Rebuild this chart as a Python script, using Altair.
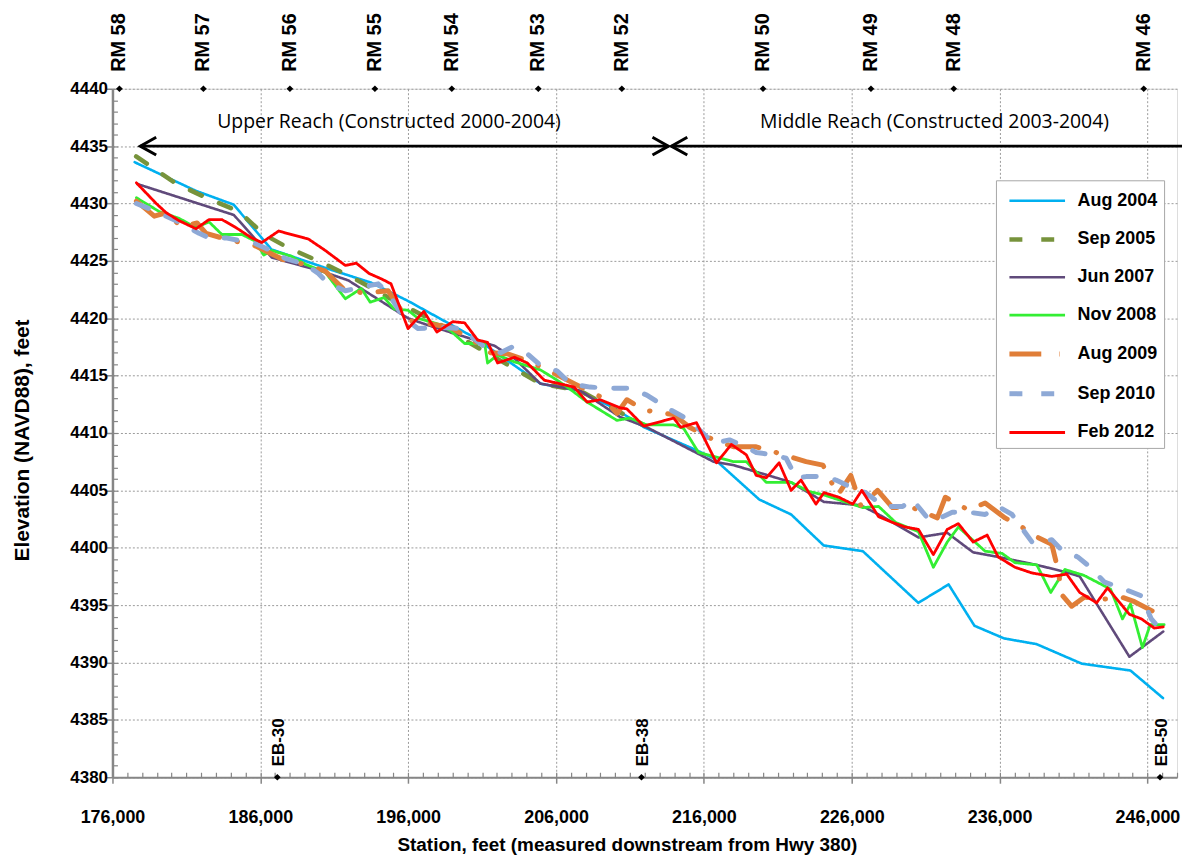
import altair as alt
import pandas as pd

# ---------------- data ----------------
series_names = ["Aug 2004", "Sep 2005", "Jun 2007", "Nov 2008", "Aug 2009", "Sep 2010", "Feb 2012"]
series_colors = ["#00B0F0", "#77933C", "#604A7B", "#33EE33", "#E07E38", "#8EA9D6", "#FF0000"]
series_dashes = [[1, 0], [13, 19], [1, 0], [1, 0], [32, 18, 0.5, 18], [13, 19], [1, 0]]
series_widths = [2.6, 4.5, 2.6, 2.8, 5, 5, 2.8]

aug2004_sta = [177500, 181650, 184200, 186750, 190600, 193500, 196000, 200500, 204950, 207450,
               209900, 211950, 215500, 216650, 219750, 221900, 224100, 226750, 230500, 232550,
               234300, 236300, 238500, 241550, 244850, 247050]
aug2004_elev = [4433.6, 4431.1, 4429.9, 4426.0, 4424.3, 4423.1, 4421.5, 4418.3, 4414.3, 4413.7,
                4412.2, 4410.5, 4408.5, 4407.8, 4404.2, 4402.9, 4400.2, 4399.7, 4395.2, 4396.8,
                4393.2, 4392.1, 4391.6, 4389.9, 4389.3, 4386.9]

sep2005_sta = [177600, 180350, 182350, 184550, 186250, 187800, 190250, 192300, 195100, 198000,
               199550, 204950, 207600, 211900]
sep2005_elev = [4434.1, 4431.7, 4430.5, 4429.3, 4427.3, 4426.2, 4424.8, 4423.5, 4421.5, 4419.6,
                4418.3, 4414.3, 4413.7, 4410.7]

jun2007_sta = [177680, 184210, 186770, 190130, 191950, 195990, 197330, 200030, 201840, 203190,
               204940, 207630, 210320, 212140, 216650, 218000, 220890, 221900, 224120, 226610,
               227820, 230510, 232460, 234210, 235900, 238520, 240410, 241420, 244780, 247070]
jun2007_elev = [4431.7, 4429.0, 4425.3, 4424.1, 4423.3, 4420.0, 4419.4, 4418.3, 4417.6, 4416.5,
                4414.3, 4413.7, 4411.4, 4410.5, 4407.5, 4407.2, 4406.1, 4405.7, 4404.0, 4403.7,
                4402.9, 4400.9, 4401.3, 4399.6, 4399.2, 4398.5, 4397.9, 4397.5, 4390.5, 4392.7]

nov2008_sta = [177620, 179160, 180510, 181650, 182530, 183400, 184750, 185690, 186230, 186770,
               188110, 189060, 190400, 191750, 192830, 193430, 194370, 195050, 195990, 196660,
               198010, 198880, 199820, 201170, 201370, 202050, 203190, 204940, 206080, 206760,
               208100, 210120, 211000, 212140, 213960, 214630, 215640, 216850, 218000, 218870,
               220220, 221900, 223110, 224120, 226740, 227820, 228970, 230510, 231520, 232460,
               233210, 235020, 236170, 237040, 238520, 239460, 240410, 241690, 243500, 244310,
               244850, 245660, 246190, 247130]
nov2008_elev = [4430.5, 4429.3, 4428.7, 4427.9, 4428.4, 4427.3, 4427.3, 4426.7, 4425.5, 4425.9,
                4425.4, 4424.7, 4424.0, 4421.7, 4422.6, 4421.4, 4421.8, 4420.8, 4420.7, 4420.0,
                4419.5, 4418.9, 4417.8, 4417.8, 4416.1, 4416.8, 4416.2, 4415.5, 4414.6, 4414.0,
                4412.7, 4411.1, 4411.3, 4410.7, 4410.7, 4410.4, 4408.3, 4407.9, 4407.5, 4407.5,
                4405.7, 4405.7, 4404.9, 4404.6, 4403.5, 4403.6, 4402.2, 4401.4, 4398.3, 4400.5,
                4401.8, 4399.7, 4399.5, 4398.7, 4398.5, 4396.1, 4398.1, 4397.6, 4396.4, 4393.8,
                4395.1, 4391.3, 4393.3, 4393.3]

aug2009_sta = [177620, 178830, 179630, 180640, 181720, 182330, 183400, 185690, 186770, 187710,
               189060, 190400, 191750, 193090, 194640, 195990, 197540, 198880, 200700, 201570,
               202720, 204060, 205410, 207230, 209250, 210120, 210790, 211940, 213960, 215030,
               216650, 218000, 219540, 220890, 222910, 224050, 225060, 225940, 226610, 227420,
               227750, 228760, 230110, 231790, 232330, 233880, 235020, 236370, 237510, 238590,
               239530, 239870, 240270, 240880, 241750, 242900, 244240, 245120, 246460]
aug2009_elev = [4430.2, 4428.9, 4429.2, 4428.0, 4428.3, 4427.4, 4427.0, 4426.3, 4425.6, 4425.0,
                4424.7, 4424.1, 4422.4, 4422.2, 4422.4, 4419.8, 4419.5, 4419.2, 4417.8, 4417.0,
                4416.9, 4416.3, 4415.5, 4414.3, 4413.0, 4411.7, 4412.9, 4412.0, 4411.6, 4410.5,
                4409.4, 4408.8, 4408.8, 4408.3, 4407.5, 4407.2, 4404.6, 4406.3, 4403.7, 4404.6,
                4405.0, 4403.5, 4403.5, 4402.6, 4404.4, 4403.3, 4403.9, 4402.6, 4401.8, 4400.9,
                4400.3, 4398.5, 4395.8, 4394.9, 4395.7, 4395.5, 4395.7, 4395.3, 4394.4]

sep2010_sta = [177620, 178960, 180310, 181860, 182530, 183670, 185690, 186360, 187710, 189060,
               189930, 190600, 191750, 192830, 193970, 194640, 195650, 196660, 198210, 199560,
               201170, 202250, 203050, 204060, 204940, 206080, 206960, 208300, 209650, 211000,
               212140, 213490, 215030, 216650, 217730, 218670, 219540, 220690, 221560, 222240,
               222910, 224050, 224930, 226070, 226950, 228160, 229440, 230110, 231120, 231660,
               232800, 233880, 235020, 235900, 236840, 238190, 239530, 240200, 241280, 241950,
               243100, 244440, 245590, 246260, 246670]
sep2010_elev = [4430.0, 4429.3, 4428.5, 4427.4, 4427.0, 4427.0, 4426.5, 4426.1, 4425.2, 4424.7,
                4423.9, 4423.0, 4422.4, 4422.7, 4423.0, 4422.2, 4420.1, 4419.1, 4419.2, 4419.1,
                4417.5, 4417.0, 4417.5, 4416.9, 4415.9, 4415.4, 4414.3, 4414.0, 4413.9, 4413.9,
                4413.3, 4412.2, 4411.1, 4409.1, 4409.4, 4408.9, 4408.3, 4408.1, 4407.8, 4406.1,
                4406.2, 4406.2, 4405.9, 4405.2, 4404.8, 4403.6, 4403.6, 4404.2, 4402.6, 4402.4,
                4403.1, 4403.1, 4402.9, 4403.6, 4402.9, 4400.5, 4400.7, 4399.8, 4399.2, 4398.5,
                4397.0, 4396.4, 4395.8, 4393.8, 4393.2]

feb2012_sta = [177620, 178960, 179630, 180510, 181650, 182530, 183400, 184350, 185420, 186100,
               187240, 188380, 189260, 190400, 191750, 192490, 193360, 194240, 194840, 195990,
               197060, 197940, 199020, 199820, 200700, 201370, 202050, 203190, 204060, 205210,
               207230, 208100, 208980, 210320, 210790, 211940, 213960, 214430, 215500, 216850,
               217860, 218870, 219540, 220220, 221090, 221900, 222570, 223580, 224120, 225130,
               226070, 226680, 227820, 228760, 229640, 230510, 231520, 232460, 233210, 234210,
               235160, 235900, 237040, 238190, 239530, 240540, 241420, 242560, 243300, 244780,
               245590, 246460, 247070]
feb2012_elev = [4431.8, 4430.0, 4429.2, 4428.5, 4427.8, 4428.6, 4428.6, 4427.9, 4427.0, 4426.6,
                4427.6, 4427.2, 4426.9, 4425.9, 4424.6, 4424.8, 4423.9, 4423.4, 4423.0, 4419.1,
                4420.6, 4418.8, 4419.7, 4419.6, 4418.1, 4417.9, 4416.1, 4416.6, 4416.1, 4414.6,
                4414.0, 4412.7, 4412.9, 4412.2, 4412.1, 4410.6, 4411.3, 4410.5, 4410.9, 4407.4,
                4409.0, 4408.1, 4406.3, 4406.1, 4407.4, 4405.0, 4405.9, 4403.8, 4404.8, 4404.4,
                4403.8, 4405.0, 4402.7, 4402.2, 4401.8, 4401.6, 4399.4, 4401.6, 4402.1, 4400.5,
                4401.1, 4399.2, 4398.3, 4397.8, 4397.5, 4397.7, 4396.1, 4395.2, 4396.5, 4394.2,
                4393.8, 4393.0, 4393.1]

rm_labels = ["RM 58", "RM 57", "RM 56", "RM 55", "RM 54", "RM 53", "RM 52", "RM 50", "RM 49", "RM 48", "RM 46"]
rm_stations = [176470, 182150, 188000, 193750, 198950, 204800, 210450, 220000, 227300, 232900, 245750]

eb_labels = ["EB-30", "EB-38", "EB-50"]
eb_stations = [187150, 211780, 246850]

reach_labels = ["Upper Reach (Constructed 2000-2004)", "Middle Reach (Constructed 2003-2004)"]
reach_text_sta = [194700, 231600]
reach_start = [177880, 213800]
reach_end = [213600, 248500]
arrow_elev = 4435
reach_text_elev = 4437.1

x_min, x_max = 176000, 248000
y_min, y_max = 4380, 4440

# ---------------- tables ----------------
all_sta = [aug2004_sta, sep2005_sta, jun2007_sta, nov2008_sta, aug2009_sta, sep2010_sta, feb2012_sta]
all_elev = [aug2004_elev, sep2005_elev, jun2007_elev, nov2008_elev, aug2009_elev, sep2010_elev, feb2012_elev]
rows = []
for name, st, el in zip(series_names, all_sta, all_elev):
    for s, e in zip(st, el):
        rows.append({"series": name, "station": s, "elev": e})
lines_df = pd.DataFrame(rows)

rm_df = pd.DataFrame({"label": rm_labels, "station": rm_stations, "elev": [y_max] * len(rm_labels)})
eb_df = pd.DataFrame({"label": eb_labels, "station": eb_stations, "elev": [y_min] * len(eb_labels)})
reach_df = pd.DataFrame({"label": reach_labels, "station": reach_text_sta, "elev": [reach_text_elev] * 2,
                         "start": reach_start, "end": reach_end, "ay": [arrow_elev] * 2})
head_left = pd.DataFrame({"station": [reach_start[0], reach_start[1]], "elev": [arrow_elev] * 2})
head_right = pd.DataFrame({"station": [reach_end[0]], "elev": [arrow_elev]})

BOLD = "Liberation Sans"
REG = "Open Sans"
GRAY = "#868686"

xs = alt.Scale(domain=[x_min, x_max], nice=False, zero=False)
ys = alt.Scale(domain=[y_min, y_max], nice=False, zero=False)

x_axis = alt.Axis(values=list(range(176000, 246001, 10000)), format=",d", labelFont=BOLD,
                  labelFontSize=18, labelFontWeight="bold", labelColor="black", labelPadding=25,
                  labelFlush=False, labelOverlap=False, tickSize=6, tickColor=GRAY, tickWidth=1.5,
                  domainColor=GRAY, domainWidth=2, grid=True, gridDash=[2, 2], gridColor="#9a9a9a",
                  gridWidth=1, title="Station, feet (measured downstream from Hwy 380)",
                  titleFont=BOLD, titleFontSize=19, titleFontWeight="bold", titleColor="black",
                  titlePadding=10, titleX=517, titleAnchor="start", titleAlign="center")
y_axis = alt.Axis(values=list(range(4380, 4441, 5)), format="d", labelFont=BOLD, labelFontSize=17,
                  labelFontWeight="bold", labelColor="black", labelPadding=-1, labelOverlap=False,
                  tickSize=6, tickColor=GRAY, tickWidth=1.5, domainColor=GRAY, domainWidth=2.5,
                  grid=True, gridDash=[2, 2], gridColor="#9a9a9a", gridWidth=1,
                  title="Elevation (NAVD88), feet", titleFont=BOLD, titleFontSize=21,
                  titleFontWeight="bold", titleColor="black", titlePadding=38,
                  titleY=353, titleAnchor="start", titleAlign="center")

legend = alt.Legend(title=None, orient="none", legendX=888, legendY=92, symbolType="M-2.15,0H2.15",
                    symbolSize=676, labelFont=BOLD, labelFontSize=18, labelFontWeight="bold",
                    labelColor="black", padding=6, rowPadding=14, strokeColor="#A6A6A6",
                    fillColor="white", symbolOffset=20, labelOffset=25, labelLimit=200)

color_enc = alt.Color("series:N", scale=alt.Scale(domain=series_names, range=series_colors), legend=legend)
dash_enc = alt.StrokeDash("series:N", scale=alt.Scale(domain=series_names, range=series_dashes), legend=legend)
width_enc = alt.StrokeWidth("series:N", scale=alt.Scale(type="ordinal", domain=series_names, range=series_widths),
                            legend=legend)

layers = []
for i, name in enumerate(series_names):
    layers.append(
        alt.Chart(lines_df).transform_filter(alt.datum.series == name)
        .mark_line(strokeCap="round", strokeJoin="round")
        .encode(
            x=alt.X("station:Q", scale=xs, axis=x_axis if i == 0 else None),
            y=alt.Y("elev:Q", scale=ys, axis=y_axis if i == 0 else None),
            color=color_enc, strokeDash=dash_enc, strokeWidth=width_enc,
        )
    )

# minor ticks (inside the plot)
minor = alt.Chart(eb_df).mark_point(opacity=0).encode(
    x=alt.X("station:Q", scale=xs, axis=alt.Axis(orient="bottom", offset=-5, tickSize=5, labels=False,
                                                 domain=False, grid=False, title=None, tickColor=GRAY,
                                                 tickWidth=1.2, values=list(range(176000, 248001, 1000)))),
    y=alt.Y("elev:Q", scale=ys, axis=alt.Axis(orient="left", offset=-5, tickSize=5, labels=False,
                                              domain=False, grid=False, title=None, tickColor=GRAY,
                                              tickWidth=1.2, values=list(range(4380, 4441, 1)))),
)

rm_pts = alt.Chart(rm_df).mark_point(shape="diamond", filled=True, color="black", size=45, opacity=1).encode(
    x=alt.X("station:Q", scale=xs, axis=None), y=alt.Y("elev:Q", scale=ys, axis=None))
rm_txt = alt.Chart(rm_df).mark_text(angle=270, align="left", baseline="middle", dx=17, font=BOLD,
                                    fontSize=20, fontWeight="bold", color="black").encode(
    x=alt.X("station:Q", scale=xs, axis=None), y=alt.Y("elev:Q", scale=ys, axis=None), text="label:N")

eb_pts = alt.Chart(eb_df).mark_point(shape="diamond", filled=True, color="black", size=45, opacity=1).encode(
    x=alt.X("station:Q", scale=xs, axis=None), y=alt.Y("elev:Q", scale=ys, axis=None))
eb_txt = alt.Chart(eb_df).mark_text(angle=270, align="left", baseline="middle", dx=11, dy=2, font=BOLD,
                                    fontSize=17, fontWeight="bold", color="black").encode(
    x=alt.X("station:Q", scale=xs, axis=None), y=alt.Y("elev:Q", scale=ys, axis=None), text="label:N")

arrow_lines = alt.Chart(reach_df).mark_rule(color="black", strokeWidth=3).encode(
    x=alt.X("start:Q", scale=xs, axis=None), x2="end:Q", y=alt.Y("ay:Q", scale=ys, axis=None))
heads_l = alt.Chart(head_left).mark_point(shape="M1,-0.56L0,0L1,0.56", filled=False, color="black",
                                          strokeWidth=3, size=1024, opacity=1).encode(
    x=alt.X("station:Q", scale=xs, axis=None), y=alt.Y("elev:Q", scale=ys, axis=None))
heads_r = alt.Chart(head_right).mark_point(shape="M-1,-0.56L0,0L-1,0.56", filled=False, color="black",
                                           strokeWidth=3, size=1024, opacity=1).encode(
    x=alt.X("station:Q", scale=xs, axis=None), y=alt.Y("elev:Q", scale=ys, axis=None))
reach_txt = alt.Chart(reach_df).mark_text(font=REG, fontSize=19.5, color="black", baseline="middle").encode(
    x=alt.X("station:Q", scale=xs, axis=None), y=alt.Y("elev:Q", scale=ys, axis=None), text="label:N")

chart = alt.layer(
    *layers, minor, rm_pts, rm_txt, eb_pts, eb_txt, arrow_lines, heads_l, heads_r, reach_txt
).resolve_axis(x="independent", y="independent").properties(
    width=1070, height=692,
    padding={"left": 105, "top": 79, "right": 5, "bottom": 78},
    autosize=alt.AutoSizeParams(type="none"),
).configure_view(stroke=None).configure(background="white")

chart.save("out.html", embed_options={"renderer": "svg", "actions": False})
